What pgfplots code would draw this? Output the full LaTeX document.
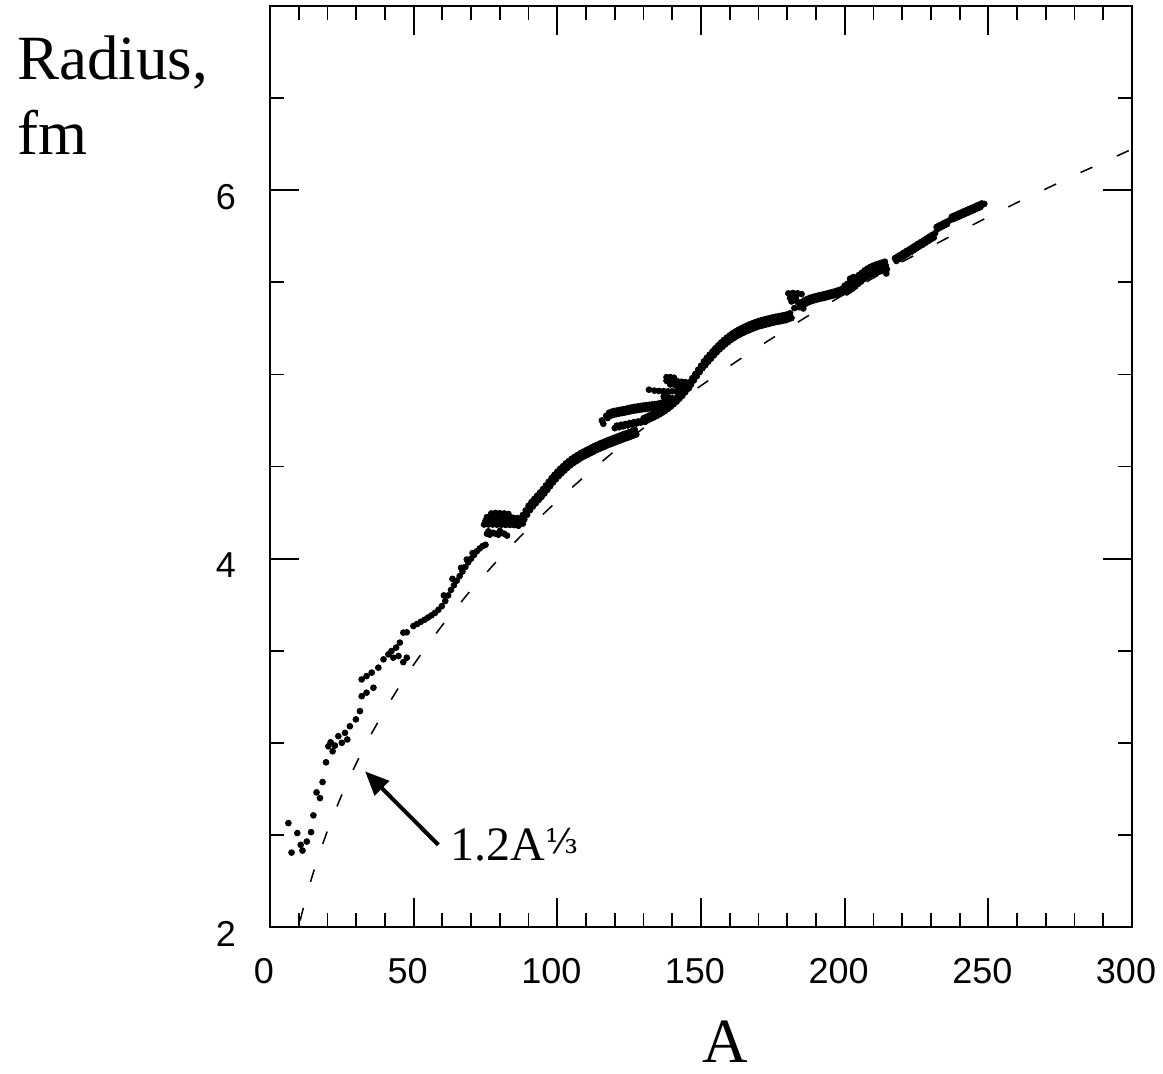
\documentclass[border=0pt]{standalone}
\usepackage{pgfplots}
\pgfplotsset{compat=1.18}
\usepackage{fontspec}
\setmainfont{Liberation Serif}
\newfontfamily\helv{Liberation Sans}
\newfontfamily\djs{DejaVu Serif}
\usetikzlibrary{arrows.meta}
\begin{document}
\begin{tikzpicture}
\useasboundingbox (-135pt,-73pt) rectangle (446.5pt,463.5pt);
\begin{axis}[at={(0,0)}, anchor=south west, scale only axis,
  width=431pt, height=460.5pt,
  xmin=0, xmax=300, ymin=2, ymax=7,
  xtick={0,50,...,300}, minor x tick num=4,
  ytick={2,4,6}, minor ytick={2.5,3,3.5,4.5,5,5.5,6.5},
  major tick length=14.5pt, minor tick length=7pt,
  tick style={black, line width=0.9pt},
  axis line style={line width=1pt},
  tick label style={font=\helv\fontsize{18}{20}\selectfont},
  /pgf/number format/assume math mode=true,
  xticklabel style={yshift=-12pt, xshift=-3pt},
  yticklabel style={xshift=-13.5pt, yshift=-3.5pt},
]
% rms-radius curve, sqrt(3/5)*1.2 A^{1/3}
\addplot[black, line width=0.75pt, dash pattern=on 6.5pt off 13.5pt] coordinates {
(10.5,2.035) (11,2.067) (12,2.128) (13,2.186) (14,2.240) (16,2.342) (18,2.436) (20,2.523)
(22.5,2.624) (25,2.718) (27.5,2.806) (30,2.888) (35,3.041) (40,3.179) (45,3.306) (50,3.424)
(55,3.535) (60,3.639) (70,3.831) (80,4.005) (90,4.166) (100,4.314) (110,4.454) (120,4.585)
(130,4.709) (140,4.827) (150,4.939) (160,5.046) (170,5.149) (180,5.248) (190,5.344) (200,5.436)
(220,5.611) (240,5.776) (260,5.933) (280,6.081) (300,6.223)};
\addplot[only marks, mark=*, mark size=1.45pt, black] table {
x y
6.4 2.564
7.5 2.404
9.5 2.51
10.7 2.446
11.3 2.415
12.8 2.464
14.3 2.515
15.1 2.606
16.2 2.731
17.4 2.70
18.3 2.787
19.5 2.894
20.3 2.981
21.1 3.003
21.8 2.954
22.6 2.985
23.8 3.036
25.0 3.00
26.1 3.054
26.9 3.018
27.8 3.09
29.9 3.127
31.3 3.172
31.9 3.253
33.6 3.272
36.0 3.299
31.9 3.344
33.6 3.362
35.4 3.381
37.7 3.408
39.5 3.453
41.2 3.48
42.3 3.498
43.9 3.517
45.2 3.544
46.4 3.438
47.6 3.462
44.7 3.471
42.9 3.462
46.4 3.598
47.6 3.60
49.9 3.634
51.2 3.645
52.5 3.657
53.8 3.668
55.0 3.68
56.2 3.692
57.4 3.705
58.6 3.722
59.8 3.742
61.0 3.77
62.0 3.80
63.0 3.83
64.0 3.855
65.0 3.88
66.0 3.905
67.0 3.93
68.0 3.955
69.0 3.98
70.0 4.00
71.0 4.02
72.0 4.04
73.0 4.055
74.0 4.068
75.0 4.075
60.5 3.80
63.5 3.89
66.5 3.95
68.5 3.995
70.5 4.03
75.5 4.135
76.5 4.13
77.5 4.14
78.5 4.135
79.5 4.13
80.5 4.14
81.5 4.135
82.5 4.125
76 4.148
80 4.15
77 4.245
78.5 4.248
80 4.246
81.5 4.245
83 4.242
75.5 4.225
77 4.225
78.5 4.226
80 4.226
81.5 4.225
83 4.224
84.5 4.222
86 4.22
75 4.205
76.5 4.205
78 4.205
79.5 4.205
81 4.205
82.5 4.204
84 4.203
85.5 4.2
87 4.198
74.5 4.185
76 4.185
77.5 4.185
79 4.184
80.5 4.184
82 4.183
83.5 4.183
85 4.182
86.5 4.182
88 4.19
86 4.202
86.5 4.178
87 4.217
87.5 4.193
88 4.237
88.5 4.213
89 4.262
89.5 4.238
90 4.287
90.5 4.263
91 4.307
91.5 4.283
92 4.324
92.5 4.300
93 4.342
93.5 4.318
94 4.359
94.5 4.335
95 4.377
95.5 4.353
96 4.397
96.5 4.373
97 4.417
97.5 4.393
98 4.437
98.5 4.413
99 4.455
99.5 4.431
100 4.472
100.5 4.448
101 4.488
101.5 4.464
102 4.502
102.5 4.478
103 4.517
103.5 4.493
104 4.530
104.5 4.506
105 4.542
105.5 4.518
106 4.552
106.5 4.528
107 4.562
107.5 4.538
108 4.572
108.5 4.548
109 4.580
109.5 4.556
110 4.588
110.5 4.564
111 4.596
111.5 4.572
112 4.604
112.5 4.580
113 4.612
113.5 4.588
114 4.619
114.5 4.595
115 4.626
115.5 4.602
116 4.632
116.5 4.608
117 4.639
117.5 4.615
118 4.645
118.5 4.621
119 4.651
119.5 4.627
120 4.657
120.5 4.633
121 4.663
121.5 4.639
122 4.669
122.5 4.645
123 4.675
123.5 4.651
124 4.680
124.5 4.656
125 4.686
125.5 4.662
126 4.692
126.5 4.668
127 4.698
127.5 4.674
116 4.732
115.5 4.75
117 4.775
117.5 4.763
118 4.792
118.5 4.775
119 4.798
119.5 4.780
120 4.802
120.5 4.784
121 4.805
121.5 4.787
122 4.808
122.5 4.790
123 4.811
123.5 4.793
124 4.814
124.5 4.796
125 4.818
125.5 4.800
126 4.821
126.5 4.803
127 4.824
127.5 4.805
128 4.826
128.5 4.808
129 4.829
129.5 4.810
130 4.831
130.5 4.812
131 4.833
131.5 4.814
132 4.835
132.5 4.816
133 4.837
133.5 4.818
134 4.839
134.5 4.820
135 4.841
135.5 4.823
136 4.845
136.5 4.828
137 4.850
137.5 4.833
138 4.856
138.5 4.839
139 4.862
139.5 4.846
140 4.870
140.5 4.853
120 4.708
121.5 4.713
123 4.718
124.5 4.723
126 4.728
127.5 4.733
129 4.738
130.5 4.742
120.7 4.722
122.2 4.727
123.7 4.731
125.2 4.736
126.7 4.741
128.2 4.745
131.9 4.917
133.8 4.912
135.4 4.91
137 4.909
138.5 4.908
140 4.908
141.5 4.909
137 4.88
138.5 4.878
138 4.985
139.3 4.985
140.6 4.982
138 4.965
139.3 4.965
140.6 4.963
141.9 4.962
143.2 4.96
144.5 4.958
139.3 4.945
140.6 4.945
141.9 4.943
143.2 4.942
144.5 4.94
145.8 4.94
141.9 4.925
143.2 4.925
144.5 4.925
145.8 4.925
130 4.762
130.5 4.744
131 4.769
131.5 4.751
132 4.777
132.5 4.759
133 4.784
133.5 4.766
134 4.792
134.5 4.774
135 4.800
135.5 4.783
136 4.809
136.5 4.792
137 4.819
137.5 4.802
138 4.830
138.5 4.813
139 4.842
139.5 4.825
140 4.855
140.5 4.838
141 4.869
141.5 4.852
142 4.884
142.5 4.868
143 4.900
143.5 4.884
144 4.917
144.5 4.903
145 4.937
145.5 4.923
146 4.957
146.5 4.944
147 4.980
147.5 4.967
148 5.002
148.5 4.990
149 5.025
149.5 5.012
150 5.047
150.5 5.033
151 5.070
151.5 5.050
152 5.090
152.5 5.069
153 5.107
153.5 5.086
154 5.125
154.5 5.104
155 5.142
155.5 5.120
156 5.158
156.5 5.136
157 5.173
157.5 5.150
158 5.187
158.5 5.164
159 5.200
159.5 5.176
160 5.212
160.5 5.188
161 5.223
161.5 5.198
162 5.233
162.5 5.208
163 5.242
163.5 5.216
164 5.250
164.5 5.224
165 5.258
165.5 5.232
166 5.265
166.5 5.238
167 5.272
167.5 5.245
168 5.278
168.5 5.251
169 5.284
169.5 5.257
170 5.289
170.5 5.262
171 5.294
171.5 5.266
172 5.298
172.5 5.270
173 5.302
173.5 5.274
174 5.306
174.5 5.278
175 5.310
175.5 5.282
176 5.313
176.5 5.285
177 5.316
177.5 5.288
178 5.319
178.5 5.291
179 5.322
179.5 5.294
180 5.326
180.5 5.300
181 5.332
181.5 5.306
180.4 5.44
182 5.442
183.6 5.44
185 5.436
181.5 5.396
183.5 5.394
182.5 5.36
184.2 5.365
185.6 5.358
181 5.415
186 5.40
183 5.418
185 5.392
185.5 5.374
186 5.402
186.5 5.384
187 5.410
187.5 5.392
188 5.416
188.5 5.398
189 5.421
189.5 5.403
190 5.425
190.5 5.407
191 5.429
191.5 5.411
192 5.432
192.5 5.414
193 5.436
193.5 5.418
194 5.440
194.5 5.422
195 5.444
195.5 5.426
196 5.448
196.5 5.430
197 5.453
197.5 5.435
198 5.458
198.5 5.440
199 5.463
199.5 5.445
200 5.482
200.3 5.463
200.7 5.445
201 5.492
201.3 5.473
201.7 5.455
202 5.502
202.3 5.483
202.7 5.465
203 5.512
203.3 5.494
203.7 5.477
204 5.527
204.3 5.509
204.7 5.492
205 5.540
205.3 5.522
205.7 5.504
206 5.552
206.3 5.534
206.7 5.517
207 5.565
207.3 5.546
207.7 5.528
208 5.575
208.3 5.556
208.7 5.537
209 5.584
209.3 5.564
209.7 5.545
210 5.591
210.3 5.571
210.7 5.551
211 5.597
211.3 5.577
211.7 5.556
212 5.602
212.3 5.582
212.7 5.561
213 5.607
213.3 5.586
213.7 5.565
214 5.612
214.3 5.591
214.7 5.571
214.5 5.548
201.9 5.52
203 5.528
217.5 5.631
218 5.616
218.5 5.641
219 5.626
219.5 5.650
220 5.635
220.5 5.660
221 5.645
221.5 5.670
222 5.655
222.5 5.679
223 5.664
223.5 5.689
224 5.674
224.5 5.699
225 5.684
225.5 5.709
226 5.694
226.5 5.718
227 5.703
227.5 5.728
228 5.713
228.5 5.738
229 5.723
229.5 5.748
230 5.733
230.5 5.757
231 5.742
231.5 5.767
232 5.800
232.8 5.807
233.6 5.813
234.4 5.820
235.2 5.826
236 5.832
236.7 5.838
232.4 5.79
233.2 5.797
234 5.803
234.8 5.81
235.6 5.816
237.3 5.856
237.7 5.843
238.1 5.862
238.5 5.848
238.9 5.867
239.3 5.854
239.7 5.873
240.1 5.859
240.5 5.878
240.9 5.865
241.3 5.884
241.7 5.870
242.1 5.889
242.5 5.876
242.9 5.895
243.3 5.881
243.7 5.900
244.1 5.887
244.5 5.906
244.9 5.892
245.3 5.911
245.7 5.898
246.1 5.917
246.5 5.903
246.9 5.922
247.3 5.909
247.7 5.928
248.6 5.926
};
\draw[black, line width=2pt, -{Triangle[length=12pt, width=10pt]}] (axis cs:58.6,2.446) -- (axis cs:33.1,2.845);
\end{axis}
\node[anchor=base west, inner sep=0pt, font=\fontsize{31.5}{36}\selectfont] at (-126.5pt,423.5pt) {Radius,};
\node[anchor=base west, inner sep=0pt, font=\fontsize{31.5}{36}\selectfont] at (-126.5pt,386pt) {fm};
\node[anchor=base, inner sep=0pt, font=\fontsize{31.5}{36}\selectfont] at (227.5pt,-67.5pt) {A};
\node[anchor=base west, inner sep=0pt, font=\fontsize{24}{28}\selectfont] at (90pt,33.5pt) {1.2A\raisebox{3.5pt}{\djs\fontsize{17}{18}\selectfont ⅓}};
\end{tikzpicture}
\end{document}
